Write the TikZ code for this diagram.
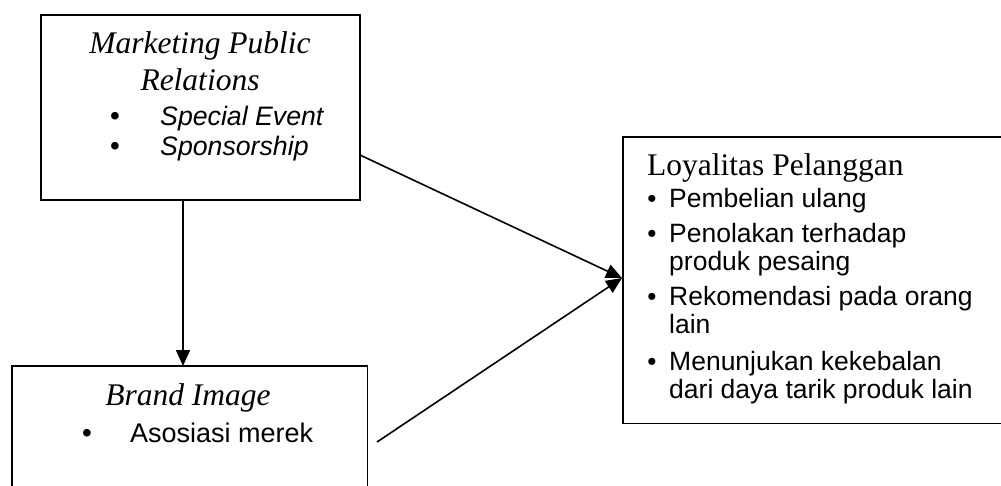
\documentclass[tikz,border=0pt]{standalone}
\usepackage{fontspec}
\setmainfont{Liberation Serif}
\setsansfont{Liberation Sans}
\usetikzlibrary{arrows.meta}
\begin{document}
\begin{tikzpicture}[x=1pt,y=-1pt,
  box/.style={draw, line width=1.8pt, inner sep=0pt, anchor=north west},
  openbox/.style={inner sep=0pt, anchor=north west},
  edge/.style={line width=1.8pt},
  conn/.style={line width=1.6pt, -{Triangle[length=16pt,width=14pt]}},
  ttl/.style={anchor=base, inner sep=0pt, font=\fontsize{31.5}{36}\selectfont\itshape},
  ttlup/.style={anchor=base west, inner sep=0pt, font=\fontsize{31.5}{36}\selectfont},
  itm/.style={anchor=base west, inner sep=0pt, font=\sffamily\fontsize{26.5}{30}\selectfont},
  itmit/.style={anchor=base west, inner sep=0pt, font=\sffamily\itshape\fontsize{26.7}{30}\selectfont},
  bul/.style={anchor=base, inner sep=0pt, font=\sffamily\fontsize{28}{30}\selectfont},
  sbul/.style={anchor=base, inner sep=0pt, font=\sffamily\fontsize{26}{30}\selectfont}]
\useasboundingbox (0,0) rectangle (1001,485);
\clip (0,0) rectangle (1001,485);
% boxes
\node[box, minimum width=319pt, minimum height=185pt] (mpr) at (40,14) {};
\node[openbox, minimum width=355pt, minimum height=160pt] (brand) at (12,366) {};
\draw[edge] (brand.south west) -- (brand.north west) -- (brand.north east) -- (brand.south east);
\node[openbox, minimum width=400pt, minimum height=286pt] (loy) at (623,137) {};
\draw[edge] (loy.north east) -- (loy.north west) -- (loy.south west) -- (loy.south east);
% Marketing Public Relations
\node[ttl] (mprt1) at (200,53) {Marketing Public};
\node[ttl] (mprt2) at (200,90) {Relations};
\node[bul] (mprb1) at (115,125) {•};
\node[itmit] (mpri1) at (160,125) {Special Event};
\node[bul] (mprb2) at (115,155) {•};
\node[itmit] (mpri2) at (160,155) {Sponsorship};
% Brand Image
\node[ttl] (brt) at (188,405) {Brand Image};
\node[bul] (brb1) at (87,442) {•};
\node[itm, font=\sffamily\fontsize{27}{30}\selectfont] (bri1) at (130,442) {Asosiasi merek};
% Loyalitas Pelanggan
\node[ttlup] (loyt) at (647,175) {Loyalitas Pelanggan};
\node[sbul] (lb1) at (652,207) {•};
\node[itm] (li1) at (669,207) {Pembelian ulang};
\node[sbul] (lb2) at (652,242) {•};
\node[itm] (li2) at (669,242) {Penolakan terhadap};
\node[itm] (li2b) at (669,270) {produk pesaing};
\node[sbul] (lb3) at (652,305) {•};
\node[itm] (li3) at (669,305) {Rekomendasi pada orang};
\node[itm] (li3b) at (669,333) {lain};
\node[sbul] (lb4) at (652,370) {•};
\node[itm] (li4) at (669,370) {Menunjukan kekebalan};
\node[itm] (li4b) at (669,398) {dari daya tarik produk lain};
% connectors
\coordinate (va) at (183,0);
\coordinate (s2) at (377,442);
\coordinate (tip) at (622,278);
\draw[conn] (mpr.south -| va) -- (brand.north -| va);
\draw[conn] ([yshift=-48pt]mpr.east) -- (tip);
\draw[conn] (s2) -- (tip);
\end{tikzpicture}
\end{document}
